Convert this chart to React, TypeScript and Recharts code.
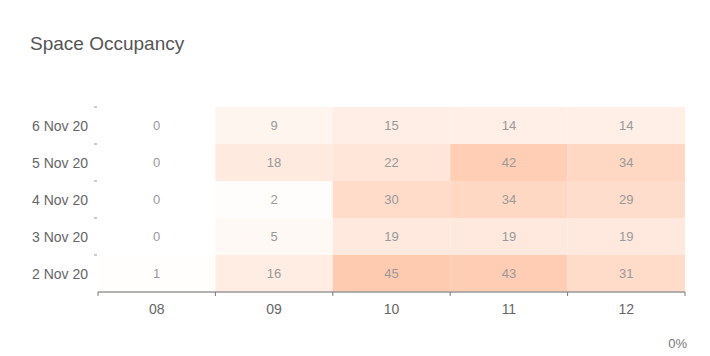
import React from 'react';
import { BarChart, Bar, XAxis, YAxis, Cell, LabelList } from 'recharts';

const dates = ['6 Nov 20', '5 Nov 20', '4 Nov 20', '3 Nov 20', '2 Nov 20'];
const hours = ['08', '09', '10', '11', '12'];
const occ08 = [0, 0, 0, 0, 1];
const occ09 = [9, 18, 2, 5, 16];
const occ10 = [15, 22, 30, 19, 45];
const occ11 = [14, 42, 34, 19, 43];
const occ12 = [14, 34, 29, 19, 31];
const seriesValues = [occ08, occ09, occ10, occ11, occ12];

const data = dates.map((d, i) => {
  const row: Record<string, any> = { date: d };
  hours.forEach((h, j) => {
    row['h' + h] = seriesValues[j][i];
  });
  return row;
});

const MAX_V = 45;
const colorFor = (v: number) => {
  const t = Math.max(0, Math.min(1, v / MAX_V));
  const g = Math.round(255 - 52 * t);
  const b = Math.round(255 - 79 * t);
  return `rgb(255,${g},${b})`;
};

const W = 710;
const H = 356;
const M = { top: 107, right: 25, left: 0, bottom: 34 };
const Y_W = 98;
const X_H = 30;
const PLOT_W = W - M.left - M.right - Y_W;
const PLOT_H = H - M.top - M.bottom - X_H;
const COL_W = PLOT_W / hours.length;
const ROW_H = PLOT_H / dates.length;
const FONT = '"Liberation Sans", Arial, Helvetica, sans-serif';

const XTick = (props: any) => {
  const { x, y, payload } = props;
  const idx = payload.value;
  if (idx >= hours.length) return null;
  return (
    <text x={x + COL_W / 2} y={y + 16} textAnchor="middle" fill="#666" fontSize={14} fontFamily={FONT}>
      {hours[idx]}
    </text>
  );
};

const YTick = (props: any) => {
  const { y, payload } = props;
  return (
    <g>
      <line x1={Y_W - 4} x2={Y_W - 1} y1={y - ROW_H / 2} y2={y - ROW_H / 2} stroke="#999" strokeWidth={1} />
      <text x={Y_W - 10} y={y + 5} textAnchor="end" fill="#666" fontSize={14} fontFamily={FONT}>
        {payload.value}
      </text>
    </g>
  );
};

export default function App() {
  return (
    <div style={{ position: 'absolute', left: 0, top: 0, width: W, height: H, background: '#fff', fontFamily: FONT }}>
      <div style={{ position: 'absolute', left: 30, top: 33, fontSize: 19, color: '#555', whiteSpace: 'nowrap' }}>
        Space Occupancy
      </div>
      <BarChart
        width={W}
        height={H}
        data={data}
        layout="vertical"
        margin={M}
        barCategoryGap={0}
      >
        <XAxis
          type="number"
          domain={[0, hours.length]}
          ticks={[0, 1, 2, 3, 4, 5]}
          allowDataOverflow
          height={X_H}
          tickSize={4}
          tickMargin={2}
          tick={<XTick />}
          axisLine={{ stroke: '#999', strokeWidth: 1.5 }}
          tickLine={{ stroke: '#777', strokeWidth: 1 }}
        />
        <YAxis
          type="category"
          dataKey="date"
          width={Y_W}
          axisLine={false}
          tickLine={false}
          tick={<YTick />}
          interval={0}
        />
        {hours.map((h, j) => (
          <Bar key={h} dataKey={() => 1} stackId="cells" isAnimationActive={false}>
            {data.map((row, i) => (
              <Cell key={i} fill={colorFor(row['h' + h])} stroke="none" />
            ))}
            <LabelList dataKey={'h' + h} position="center" fill="#999" stroke="none" fontSize={13} fontFamily={FONT} />
          </Bar>
        ))}
      </BarChart>
      <div style={{ position: 'absolute', right: W - 687, top: 336, fontSize: 13, color: '#777' }}>0%</div>
    </div>
  );
}
